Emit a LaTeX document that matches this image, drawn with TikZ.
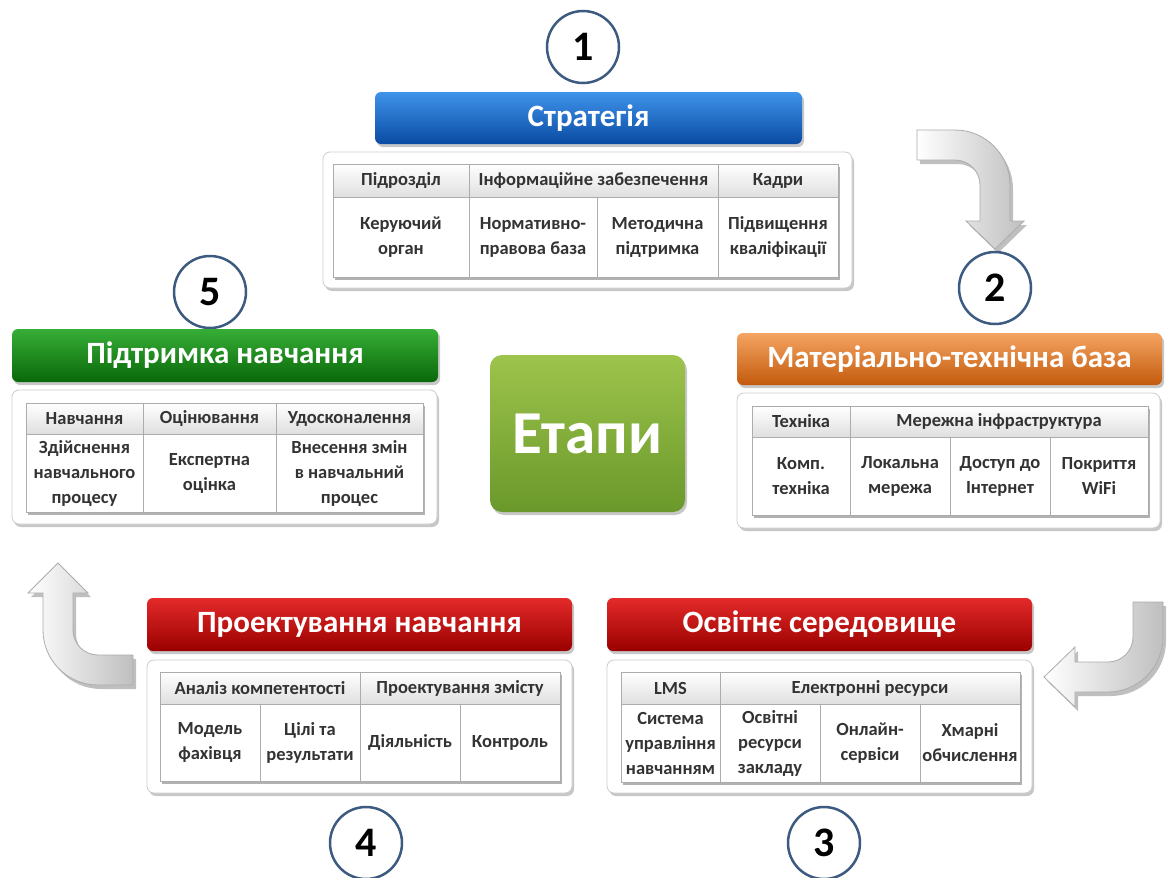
\documentclass[tikz,border=0pt]{standalone}
\usepackage{fontspec}
\setmainfont{Carlito}
\usetikzlibrary{shadows}
\definecolor{ringc}{HTML}{3D5A80}
\definecolor{bluetop}{HTML}{3F93EA}
\definecolor{bluebot}{HTML}{0A4BA3}
\definecolor{orgtop}{HTML}{F5A462}
\definecolor{orgbot}{HTML}{C25A0C}
\definecolor{grntop}{HTML}{36AE36}
\definecolor{grnbot}{HTML}{0A680A}
\definecolor{redtop}{HTML}{E42A2A}
\definecolor{redbot}{HTML}{9A0000}
\definecolor{ettop}{HTML}{9DC44C}
\definecolor{etbot}{HTML}{6A982A}
\definecolor{celltxt}{HTML}{333333}
\tikzset{
  shd/.style={drop shadow={shadow xshift=2pt,shadow yshift=-3pt,opacity=0.22,fill=black}},
  panel/.style={draw=gray!40, fill=white, rounded corners=7pt, line width=0.8pt, shd},
  banner/.style={rounded corners=6pt, shd},
  btitle/.style={text=white, font=\fontsize{31}{36}\selectfont\bfseries},
  tblback/.style={fill=white, drop shadow={shadow xshift=2pt,shadow yshift=-3pt,opacity=0.3,fill=black}},
  hcell/.style={draw=gray!65, line width=0.8pt, top color=white, bottom color=gray!25, inner sep=0pt, font=\fontsize{18.5}{22}\selectfont\bfseries, text=celltxt, align=center},
  bcell/.style={draw=gray!65, line width=0.8pt, fill=white, inner sep=0pt, font=\fontsize{18.5}{25}\selectfont\bfseries, text=celltxt, align=center},
  num/.style={circle, draw=ringc, line width=2.5pt, fill=white, minimum size=72pt, inner sep=0pt, font=\fontsize{42}{42}\selectfont\bfseries},
  bentarrow/.style={draw=gray!65, line width=0.8pt, left color=white, right color=gray!50, drop shadow={shadow xshift=3pt,shadow yshift=-4pt,opacity=0.25,fill=black}}
}
\newcommand\hc[6]{\node[hcell,minimum width={(#4-#2)*1pt},minimum height={(#5-#3)*1pt}] (#1) at ({(#2+#4)/2},{(#3+#5)/2}) {#6};}
\newcommand\bc[6]{\node[bcell,minimum width={(#4-#2)*1pt},minimum height={(#5-#3)*1pt}] (#1) at ({(#2+#4)/2},{(#3+#5)/2}) {#6};}
\begin{document}
\begin{tikzpicture}[x=1pt,y=-1pt,font=\bfseries]
\fill[white] (0,0) rectangle (1173,878);
\useasboundingbox (0,0) rectangle (1173,878);

% ---------- arrows ----------
\path[bentarrow] (917,130) -- (955,130) .. controls (985.4,130) and (1010,154.6) .. (1010,185) -- (1010,221) -- (1024,221) -- (995,249) -- (966,221) -- (980,221) -- (980,185) .. controls (980,171.2) and (968.8,160) .. (955,160) -- (917,160) -- cycle;
\path[bentarrow] (1133,602) -- (1163,602) -- (1163,637) .. controls (1163,667.4) and (1138.4,692) .. (1108,692) -- (1075,692) -- (1075,707) -- (1044,677) -- (1075,647) -- (1075,662) -- (1108,662) .. controls (1121.8,662) and (1133,650.8) .. (1133,637) -- cycle;
\path[bentarrow] (133,655) -- (98,655) .. controls (84.2,655) and (73,643.8) .. (73,630) -- (73,593) -- (88,593) -- (58,563) -- (28,593) -- (43,593) -- (43,630) .. controls (43,660.4) and (67.6,685) .. (98,685) -- (133,685) -- cycle;

% ---------- number circles ----------
\node[num] (n1) at (583,47) {1};
\node[num] (n2) at (995,288) {2};
\node[num] (n3) at (824,843) {3};
\node[num] (n4) at (366,843) {4};
\node[num] (n5) at (210,292) {5};

% ---------- centre ----------
\path[rounded corners=12pt, top color=ettop, bottom color=etbot, shd] (490,355) rectangle (685,512);
\node[text=white, font=\fontsize{61}{63}\selectfont\bfseries] (et) at (587.5,433.5) {Етапи};

% ---------- 1: Strategy ----------
\path[banner, top color=bluetop, bottom color=bluebot] (375,92) rectangle (802,144);
\node[btitle] (s-t) at (588.5,118) {Стратегія};
\path[panel] (323,152) rectangle (852,288);
\path[tblback] (333,164) rectangle (838,277);
\hc{s-h1}{333}{164}{469}{197}{Підрозділ}
\hc{s-h2}{469}{164}{718}{197}{Інформаційне забезпечення}
\hc{s-h3}{718}{164}{838}{197}{Кадри}
\bc{s-b1}{333}{197}{469}{277}{Керуючий\\орган}
\bc{s-b2}{469}{197}{597}{277}{Нормативно-\\правова база}
\bc{s-b3}{597}{197}{718}{277}{Методична\\підтримка}
\bc{s-b4}{718}{197}{838}{277}{Підвищення\\кваліфікації}

% ---------- 2: Material base ----------
\path[banner, top color=orgtop, bottom color=orgbot] (737,333) rectangle (1162,385);
\node[btitle] (m-t) at (949.5,359) {Матеріально-технічна база};
\path[panel] (737,393) rectangle (1160,528);
\path[tblback] (752,406) rectangle (1148,515);
\hc{m-h1}{752}{406}{850}{437}{Техніка}
\hc{m-h2}{850}{406}{1148}{437}{Мережна інфраструктура}
\bc{m-b1}{752}{437}{850}{515}{Комп.\\техніка}
\bc{m-b2}{850}{437}{950}{515}{Локальна\\мережа}
\bc{m-b3}{950}{437}{1050}{515}{Доступ до\\Інтернет}
\bc{m-b4}{1050}{437}{1148}{515}{Покриття\\WiFi}

% ---------- 5: Learning support ----------
\path[banner, top color=grntop, bottom color=grnbot] (12,329) rectangle (438,382);
\node[btitle] (p-t) at (225,355.5) {Підтримка навчання};
\path[panel] (12,390) rectangle (437,524);
\path[tblback] (26,403) rectangle (423,512);
\hc{p-h1}{26}{403}{143}{434}{Навчання}
\hc{p-h2}{143}{403}{276}{434}{Оцінювання}
\hc{p-h3}{276}{403}{423}{434}{Удосконалення}
\bc{p-b1}{26}{434}{143}{512}{Здійснення\\навчального\\процесу}
\bc{p-b2}{143}{434}{276}{512}{Експертна\\оцінка}
\bc{p-b3}{276}{434}{423}{512}{Внесення змін\\в навчальний\\процес}

% ---------- 4: Design ----------
\path[banner, top color=redtop, bottom color=redbot] (147,598) rectangle (572,651);
\node[btitle] (d-t) at (359.5,624.5) {Проектування навчання};
\path[panel] (147,660) rectangle (572,793);
\path[tblback] (160,672) rectangle (560,781);
\hc{d-h1}{160}{672}{360}{704}{Аналіз компетентості}
\hc{d-h2}{360}{672}{560}{704}{Проектування змісту}
\bc{d-b1}{160}{704}{260}{781}{Модель\\фахівця}
\bc{d-b2}{260}{704}{360}{781}{Цілі та\\результати}
\bc{d-b3}{360}{704}{460}{781}{Діяльність}
\bc{d-b4}{460}{704}{560}{781}{Контроль}

% ---------- 3: Environment ----------
\path[banner, top color=redtop, bottom color=redbot] (607,598) rectangle (1032,651);
\node[btitle] (o-t) at (819.5,624.5) {Освітнє середовище};
\path[panel] (607,660) rectangle (1032,793);
\path[tblback] (621,672) rectangle (1020,782);
\hc{o-h1}{621}{672}{720}{704}{LMS}
\hc{o-h2}{720}{672}{1020}{704}{Електронні ресурси}
\bc{o-b1}{621}{704}{720}{782}{Система\\управління\\навчанням}
\bc{o-b2}{720}{704}{820}{782}{Освітні\\ресурси\\закладу}
\bc{o-b3}{820}{704}{920}{782}{Онлайн-\\сервіси}
\bc{o-b4}{920}{704}{1020}{782}{Хмарні\\обчислення}
\end{tikzpicture}
\end{document}
